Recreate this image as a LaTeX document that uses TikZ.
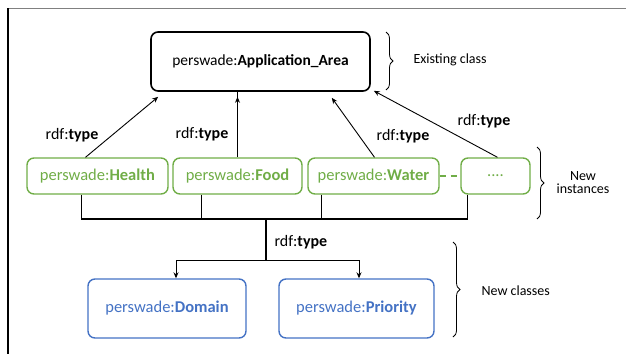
\documentclass[tikz,border=0pt]{standalone}
\usepackage{fontspec}
\setmainfont{Carlito}
\usetikzlibrary{arrows.meta,decorations.pathreplacing}
\definecolor{instgreen}{RGB}{112,173,71}
\definecolor{classblue}{RGB}{68,114,196}

\begin{document}
\begin{tikzpicture}[x=1pt,y=-1pt,
    box/.style={draw,rounded corners=7pt,line width=1.4pt,inner sep=0pt},
    inst/.style={box,instgreen,text=instgreen,minimum height=36pt,font=\fontsize{16.5}{18}\selectfont},
    cls/.style={box,classblue,text=classblue,minimum height=59pt,font=\fontsize{16.5}{18}\selectfont},
    rel/.style={font=\fontsize{16}{18}\selectfont},
    side/.style={font=\fontsize{14}{15}\selectfont,align=center},
    link/.style={line width=0.9pt,-{Stealth[length=6pt,width=5pt]}},
    bus/.style={line width=1.1pt},
    brc/.style={decorate,decoration={brace,amplitude=7pt},line width=0.8pt}]
    \useasboundingbox (0,0) rectangle (626,354);
    % frame
    \draw[gray,line width=1.5pt] (8,8.5) -- (626,8.5);
    \draw[line width=1.2pt] (8,8) -- (8,354);
    % existing class
    \node[box,line width=1.6pt,minimum width=219pt,minimum height=59pt,font=\fontsize{15.5}{18}\selectfont] (app) at (260.5,61.5) {perswade:\textbf{Application\_Area}};
    % new instances
    \node[inst,minimum width=141pt] (health) at (97.5,176) {perswade:\textbf{Health}};
    \node[inst,minimum width=129pt] (food) at (237.5,176) {perswade:\textbf{Food}};
    \node[inst,minimum width=131pt] (water) at (373.5,176) {perswade:\textbf{Water}};
    \node[inst,minimum width=69pt] (more) at (495.5,176) {....};
    \draw[instgreen,line width=1.4pt,dash pattern=on 6pt off 5pt] (water) -- (more);
    % new classes
    \node[cls,minimum width=158pt] (domain) at (167,308.5) {perswade:\textbf{Domain}};
    \node[cls,minimum width=155pt] (priority) at (356.5,308.5) {perswade:\textbf{Priority}};
    % rdf:type to the existing class
    \draw[link] ([xshift=-12pt]health.north) -- ([shift={(8,5)}]app.south west);
    \draw[link] (food.north) -- (food.north |- app.south) ++(0,5);
    \draw[link] ([xshift=1pt]water.north) -- ([shift={(-39,6)}]app.south east);
    \draw[link] ([xshift=2pt]more.north) -- ([shift={(3,-1)}]app.south east);
    \node[rel] (t1) at (72,135) {rdf:\textbf{type}};
    \node[rel] (t2) at (202,134) {rdf:\textbf{type}};
    \node[rel] (t3) at (403,136) {rdf:\textbf{type}};
    \node[rel] (t4) at (484,121) {rdf:\textbf{type}};
    % rdf:type to the new classes
    \coordinate (join) at (266,219);
    \coordinate (split) at (266,260);
    \draw[bus] ([xshift=-16pt]health.south) |- (join);
    \draw[bus] ([xshift=-36pt]food.south) |- (join);
    \draw[bus] ([xshift=-52pt]water.south) |- (join);
    \draw[bus] ([xshift=-28pt]more.south) |- (join);
    \draw[bus] (join) -- (split);
    \draw[link] (split) -| ([xshift=9pt]domain.north);
    \draw[link] (split) -| ([xshift=2.5pt]priority.north);
    \node[rel,anchor=west] (t5) at (271,242) {rdf:\textbf{type}};
    % braces
    \draw[brc] (386,32) -- (386,90) node[midway,xshift=9pt] (b1) {};
    \draw[brc] (537,147) -- (537,219) node[midway,xshift=9pt] (b2) {};
    \draw[brc] (453,242) -- (453,337) node[midway,xshift=9pt] (b3) {};
    \node[side,anchor=west] (l1) at (410,60) {Existing class};
    \node[side] (l2) at (583,183) {New\\[-2pt]instances};
    \node[side,anchor=west] (l3) at (478,291) {New classes};
\end{tikzpicture}
\end{document}
